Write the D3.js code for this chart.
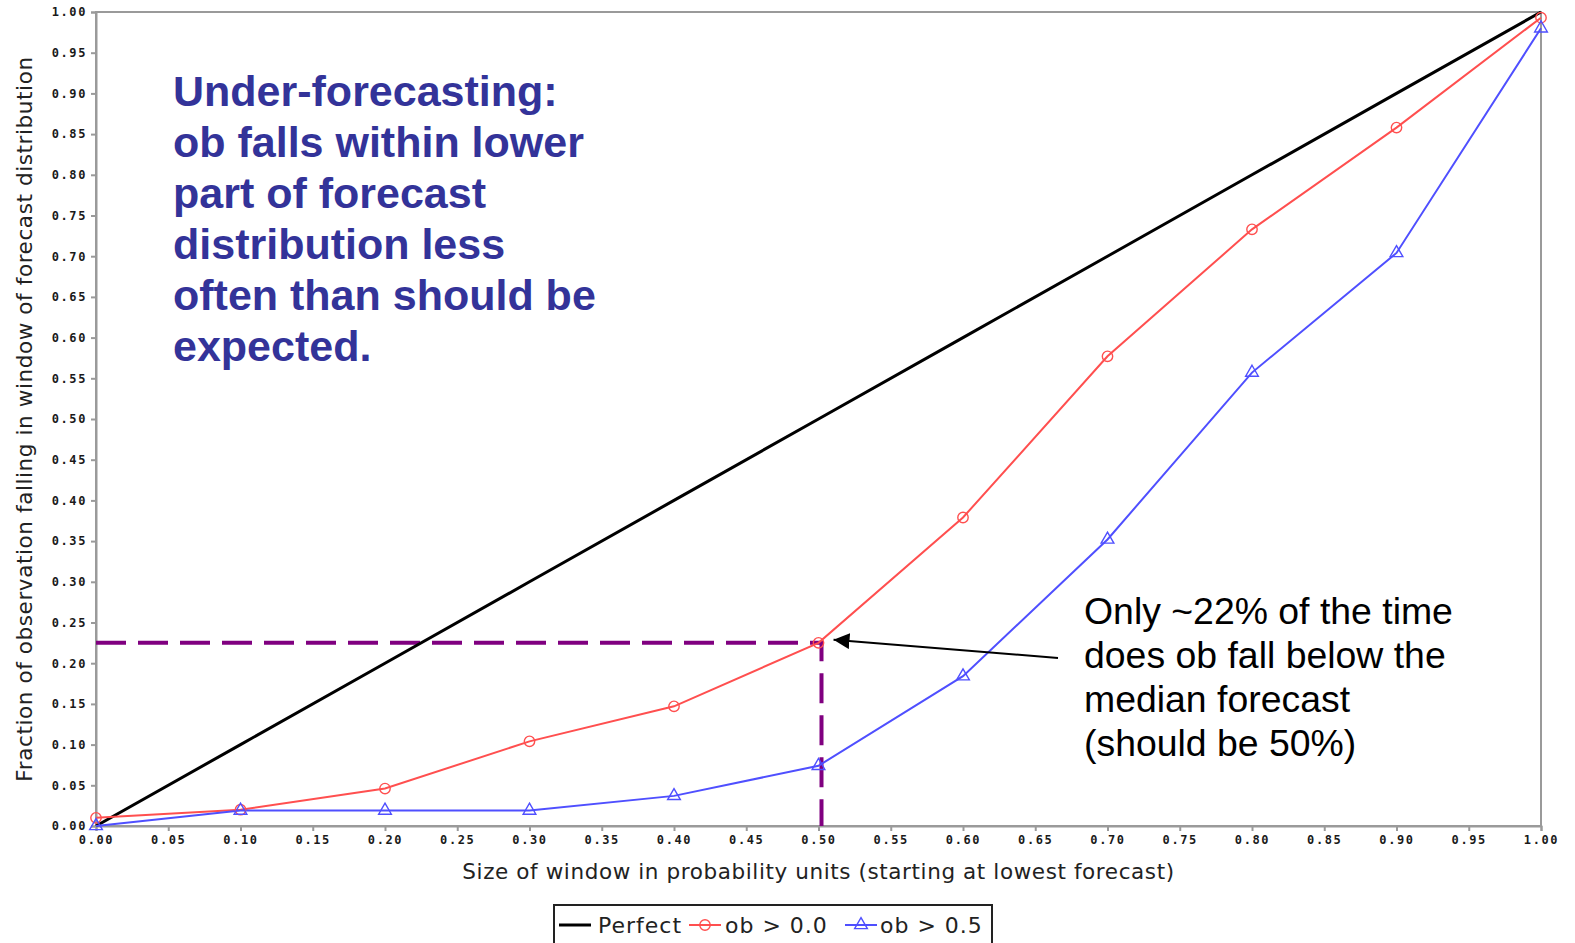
<!DOCTYPE html>
<html>
<head>
<meta charset="utf-8">
<script src="https://cdn.jsdelivr.net/npm/d3@7"></script>
<style>
  html, body { margin: 0; padding: 0; background: #fff; }
  svg { display: block; }
</style>
</head>
<body>
<svg id="chart" width="1575" height="943"></svg>
<script>
// Window sizes (probability units, from lowest forecast)
const windowSizes = [0.0, 0.1, 0.2, 0.3, 0.4, 0.5, 0.6, 0.7, 0.8, 0.9, 1.0];
// Fraction of observations falling in the window
const perfect = [0.0, 0.1, 0.2, 0.3, 0.4, 0.5, 0.6, 0.7, 0.8, 0.9, 1.0];
const obGt00 = [0.010, 0.020, 0.046, 0.104, 0.147, 0.225, 0.379, 0.577, 0.733, 0.858, 0.993];
const obGt05 = [0.000, 0.019, 0.019, 0.019, 0.037, 0.074, 0.184, 0.352, 0.557, 0.704, 0.980];
// Axis tick values
const tickValues = d3.range(0, 21).map(i => i * 0.05);
// Reference level highlighted at the median window
const medianWindow = 0.5;
const medianFraction = 0.225;

const seriesNames = ["Perfect", "ob > 0.0", "ob > 0.5"];
const annotationLeft = [
  "Under-forecasting:",
  "ob falls within lower",
  "part of forecast",
  "distribution less",
  "often than should be",
  "expected."
];
const annotationRight = [
  "Only ~22% of the time",
  "does ob fall below the",
  "median forecast",
  "(should be 50%)"
];

const svg = d3.select("#chart");
const margin = { left: 96, right: 34, top: 12, bottom: 117 };
const W = 1575, H = 943;
const x = d3.scaleLinear().domain([0, 1]).range([margin.left, W - margin.right]);
const y = d3.scaleLinear().domain([0, 1]).range([H - margin.bottom, margin.top]);

const axisGrey = "#9a9a9a";
const tickFont = "'DejaVu Sans Mono', monospace";
const labelFont = "'DejaVu Sans', sans-serif";

// Plot frame
svg.append("rect")
  .attr("x", x(0)).attr("y", y(1))
  .attr("width", x(1) - x(0)).attr("height", y(0) - y(1))
  .attr("fill", "none").attr("stroke", axisGrey).attr("stroke-width", 2);

// Axes
const xAxis = d3.axisBottom(x).tickValues(tickValues).tickFormat(d3.format(".2f")).tickSize(5).tickPadding(4);
const yAxis = d3.axisLeft(y).tickValues(tickValues).tickFormat(d3.format(".2f")).tickSize(5).tickPadding(4);

function styleAxis(g) {
  g.select(".domain").attr("stroke", axisGrey).attr("stroke-width", 2);
  g.selectAll(".tick line").attr("stroke", axisGrey).attr("stroke-width", 2);
  g.selectAll(".tick text")
    .attr("fill", "#1a1a1a")
    .style("font-family", tickFont)
    .style("font-size", "12px")
    .style("font-weight", "bold")
    .style("letter-spacing", "1.6px");
}

svg.append("g").attr("transform", `translate(0,${y(0)})`).call(xAxis).call(styleAxis);
svg.append("g").attr("transform", `translate(${x(0)},0)`).call(yAxis).call(styleAxis);

// Axis titles
svg.append("text")
  .attr("x", (x(0) + x(1)) / 2).attr("y", 879)
  .attr("text-anchor", "middle")
  .style("font-family", labelFont)
  .style("font-size", "21.5px")
  .style("letter-spacing", "0.6px")
  .attr("fill", "#222")
  .text("Size of window in probability units (starting at lowest forecast)");

svg.append("text")
  .attr("transform", `translate(32,${(y(0) + y(1)) / 2}) rotate(-90)`)
  .attr("text-anchor", "middle")
  .style("font-family", labelFont)
  .style("font-size", "21.5px")
  .style("letter-spacing", "0.6px")
  .attr("fill", "#222")
  .text("Fraction of observation falling in window of forecast distribution");

// Dashed guide lines at the median window
const guideColor = "#800080";
svg.append("path")
  .attr("d", `M${x(0)},${y(medianFraction)} H${x(medianWindow) + 3} V${y(0)}`)
  .attr("fill", "none")
  .attr("stroke", guideColor)
  .attr("stroke-width", 4)
  .attr("stroke-dasharray", "30,12");

// Series lines
const line = d3.line().x((d, i) => x(windowSizes[i])).y(d => y(d));
const series = [
  { name: seriesNames[0], values: perfect, color: "#000000", width: 3, marker: null },
  { name: seriesNames[1], values: obGt00, color: "#ff4f4f", width: 2, marker: "circle" },
  { name: seriesNames[2], values: obGt05, color: "#4f4fff", width: 2, marker: "triangle" }
];

series.forEach(s => {
  svg.append("path")
    .datum(s.values)
    .attr("d", line)
    .attr("fill", "none")
    .attr("stroke", s.color)
    .attr("stroke-width", s.width);
});

const circleSym = d3.symbol().type(d3.symbolCircle).size(85);
const triSym = d3.symbol().type(d3.symbolTriangle).size(70);

series.filter(s => s.marker).forEach(s => {
  svg.append("g").selectAll("path")
    .data(s.values)
    .join("path")
    .attr("transform", (d, i) => `translate(${x(windowSizes[i])},${y(d)})`)
    .attr("d", s.marker === "circle" ? circleSym : triSym)
    .attr("fill", "none")
    .attr("stroke", s.color)
    .attr("stroke-width", 1.4);
});

// Left annotation
const leftText = svg.append("text")
  .attr("x", 173).attr("y", 106)
  .style("font-family", "'Liberation Sans', Arial, sans-serif")
  .style("font-size", "43px")
  .style("font-weight", "bold")
  .attr("fill", "#333399");
leftText.selectAll("tspan")
  .data(annotationLeft)
  .join("tspan")
  .attr("x", 173)
  .attr("dy", (d, i) => i === 0 ? 0 : 51)
  .text(d => d);

// Right annotation
const rightText = svg.append("text")
  .attr("x", 1084).attr("y", 624)
  .style("font-family", "'Liberation Sans', Arial, sans-serif")
  .style("font-size", "37.4px")
  .attr("fill", "#000");
rightText.selectAll("tspan")
  .data(annotationRight)
  .join("tspan")
  .attr("x", 1084)
  .attr("dy", (d, i) => i === 0 ? 0 : 44)
  .text(d => d);

// Arrow pointing to the median crossing
svg.append("defs").append("marker")
  .attr("id", "arrowhead")
  .attr("viewBox", "0 0 10 10")
  .attr("refX", 10).attr("refY", 5)
  .attr("markerWidth", 8).attr("markerHeight", 8)
  .attr("markerUnits", "strokeWidth")
  .attr("orient", "auto")
  .append("path")
  .attr("d", "M0,0 L10,5 L0,10 Z")
  .attr("fill", "#000");

svg.append("line")
  .attr("x1", 1058).attr("y1", 658)
  .attr("x2", x(medianWindow) + 15).attr("y2", y(medianFraction) - 3)
  .attr("stroke", "#000")
  .attr("stroke-width", 2)
  .attr("marker-end", "url(#arrowhead)");

// Legend
const legend = svg.append("g");
legend.append("rect")
  .attr("x", 554).attr("y", 905)
  .attr("width", 438).attr("height", 50)
  .attr("fill", "#fff").attr("stroke", "#222").attr("stroke-width", 2);

const legendItems = [
  { s: series[0], x0: 559, tx: 598 },
  { s: series[1], x0: 689, tx: 725 },
  { s: series[2], x0: 845, tx: 880 }
];
const ly = 925;
legendItems.forEach(it => {
  legend.append("line")
    .attr("x1", it.x0).attr("x2", it.x0 + 32)
    .attr("y1", ly).attr("y2", ly)
    .attr("stroke", it.s.color).attr("stroke-width", it.s.width);
  if (it.s.marker) {
    legend.append("path")
      .attr("transform", `translate(${it.x0 + 16},${ly})`)
      .attr("d", it.s.marker === "circle" ? circleSym : triSym)
      .attr("fill", "none").attr("stroke", it.s.color).attr("stroke-width", 1.4);
  }
  legend.append("text")
    .attr("x", it.tx).attr("y", ly + 8)
    .style("font-family", labelFont)
    .style("font-size", "22px")
    .style("letter-spacing", "1px")
    .attr("fill", "#222")
    .text(it.s.name);
});
</script>
</body>
</html>
